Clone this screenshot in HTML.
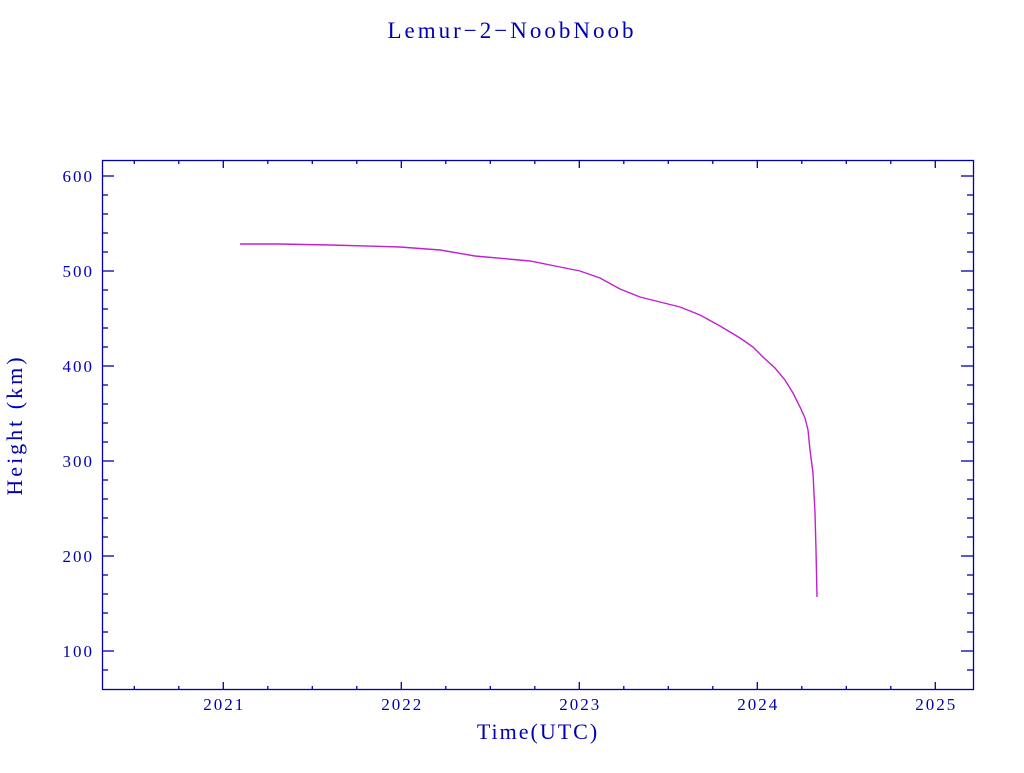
<!DOCTYPE html>
<html><head><style>
body{margin:0;background:#fff;}
svg text{font-family:"Liberation Serif",serif;fill:#0000b0;}
</style></head><body>
<svg width="1024" height="768" viewBox="0 0 1024 768" xmlns="http://www.w3.org/2000/svg">
<rect width="1024" height="768" fill="#fff"/>
<text x="512" y="38" font-size="23" text-anchor="middle" letter-spacing="3">Lemur−2−NoobNoob</text>
<rect x="102.5" y="160.5" width="871" height="529" fill="none" stroke="#0000b0" stroke-width="1.3"/>
<g stroke="#0000b0" stroke-width="1.3" id="t"></g>
<g font-size="17" text-anchor="end" letter-spacing="2" id="yl"></g>
<g font-size="17" text-anchor="middle" letter-spacing="2" id="xl"></g>
<text x="538" y="739" font-size="22" text-anchor="middle" letter-spacing="2">Time(UTC)</text>
<text transform="translate(22,425) rotate(-90)" font-size="22" text-anchor="middle" letter-spacing="3">Height (km)</text>
<polyline fill="none" stroke="#c020d0" stroke-width="1.4" points="240,244 279,244 330,245 400,247 440,250 475,256 530,261 560,267 580,271 600,278 620,289 640,297 680,307 700,315 720,326 740,338 753,347 764,358 775,368 785,380 793,393 800,407 805,418 808,430 810,450 813,473 815,513 816,550 817,597"/>
</svg>
<script>
var ns="http://www.w3.org/2000/svg",t=document.getElementById('t'),yl=document.getElementById('yl'),xl=document.getElementById('xl');
function L(a,b,c,d){var l=document.createElementNS(ns,'line');l.setAttribute('x1',a);l.setAttribute('y1',b);l.setAttribute('x2',c);l.setAttribute('y2',d);t.appendChild(l);}
function T(p,x,y,s){var e=document.createElementNS(ns,'text');e.setAttribute('x',x);e.setAttribute('y',y);e.textContent=s;p.appendChild(e);}
for(var h=80;h<=600;h+=20){var y=176+(600-h)*0.95;var M=h%100==0;var len=M?12:6;L(102,y,102+len,y);L(973,y,973-len,y);if(M)T(yl,94,y+6,h);}
for(var q=0;q<20;q++){var yr=2020.25+q*0.25;var x=223.3+178*(yr-2021);if(x<103||x>972)continue;var M=Math.abs(yr-Math.round(yr))<1e-6;var len=M?8:4;L(x,690,x,690-len);L(x,160,x,160+len);if(M)T(xl,x+1,710,Math.round(yr));}
</script>
</body></html>
